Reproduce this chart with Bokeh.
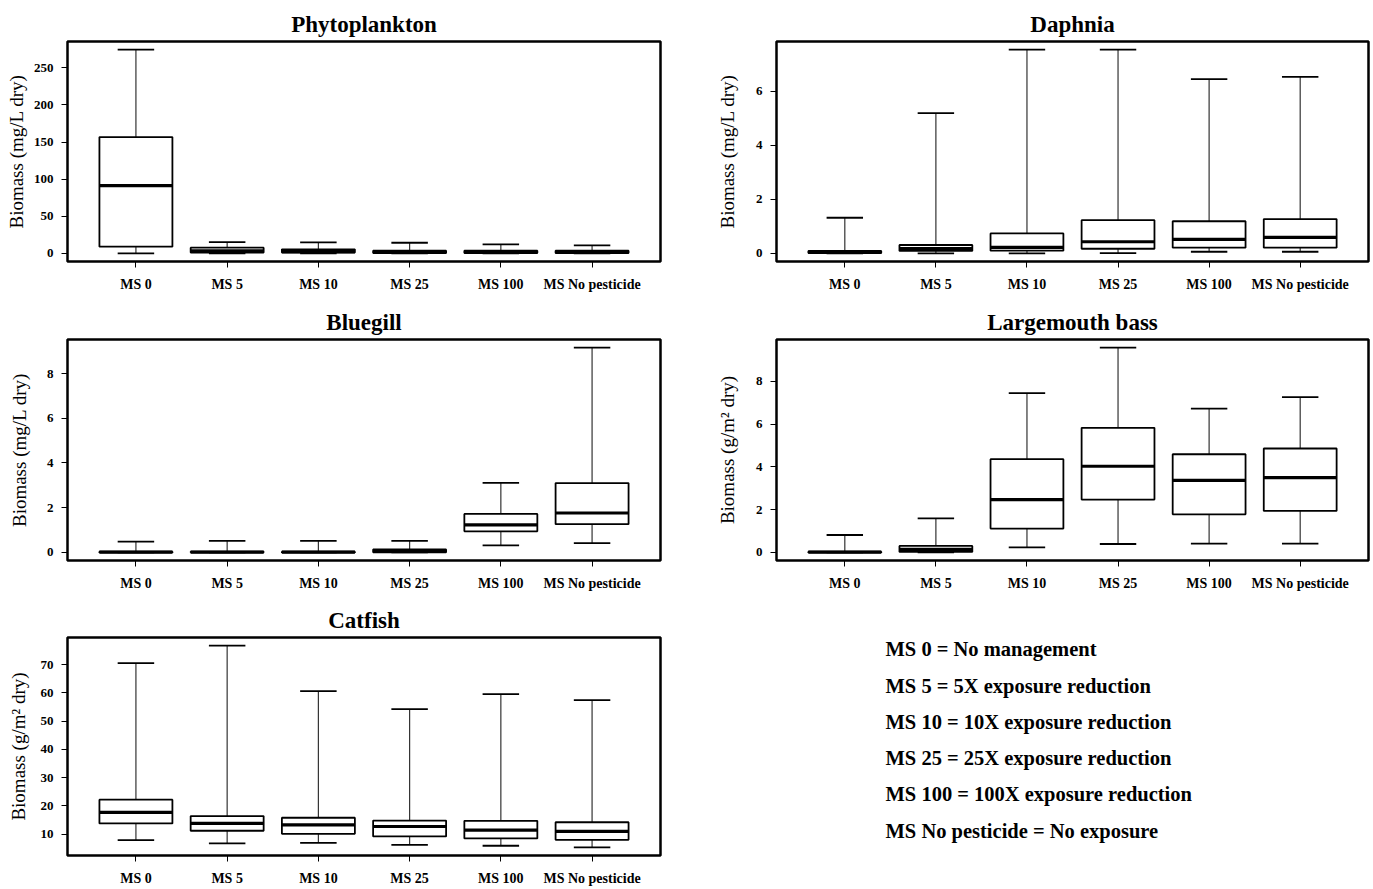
from bokeh.plotting import figure
from bokeh.layouts import column, row
from bokeh.models import Range1d, FixedTicker
from bokeh.embed import file_html
from bokeh.resources import INLINE
from bokeh.core.properties import value

categories = ["MS 0", "MS 5", "MS 10", "MS 25", "MS 100", "MS No pesticide"]

# five-number summaries per category: lower whisker, Q1, median, Q3, upper whisker
phyto_low = [0.0, 0.0, 0.0, 0.0, 0.0, 0.0]
phyto_q1 = [9.0, 1.0, 1.0, 0.5, 0.5, 0.5]
phyto_med = [91.4, 3.5, 2.2, 1.8, 1.8, 1.8]
phyto_q3 = [156.8, 7.6, 5.4, 3.6, 3.6, 3.6]
phyto_high = [274.6, 15.2, 14.8, 14.3, 12.1, 10.8]
phyto_ticks = [0, 50, 100, 150, 200, 250]

daph_low = [0.0, 0.0, 0.0, 0.01, 0.06, 0.06]
daph_q1 = [0.01, 0.09, 0.10, 0.17, 0.21, 0.21]
daph_med = [0.04, 0.18, 0.22, 0.43, 0.52, 0.59]
daph_q3 = [0.09, 0.31, 0.74, 1.23, 1.19, 1.27]
daph_high = [1.32, 5.20, 7.55, 7.55, 6.46, 6.54]
daph_ticks = [0, 2, 4, 6]

blue_low = [0.0, 0.0, 0.0, 0.0, 0.31, 0.41]
blue_q1 = [0.0, 0.0, 0.0, 0.0, 0.94, 1.26]
blue_med = [0.01, 0.01, 0.01, 0.04, 1.23, 1.76]
blue_q3 = [0.03, 0.03, 0.03, 0.13, 1.72, 3.10]
blue_high = [0.48, 0.51, 0.51, 0.51, 3.11, 9.16]
blue_ticks = [0, 2, 4, 6, 8]

lmb_low = [0.0, 0.0, 0.23, 0.39, 0.41, 0.41]
lmb_q1 = [0.0, 0.02, 1.11, 2.47, 1.78, 1.94]
lmb_med = [0.01, 0.14, 2.47, 4.03, 3.37, 3.50]
lmb_q3 = [0.03, 0.30, 4.36, 5.83, 4.59, 4.86]
lmb_high = [0.81, 1.59, 7.45, 9.58, 6.73, 7.27]
lmb_ticks = [0, 2, 4, 6, 8]

cat_low = [7.9, 6.7, 6.9, 6.2, 5.9, 5.3]
cat_q1 = [13.8, 11.2, 10.1, 9.2, 8.5, 8.0]
cat_med = [17.7, 13.8, 13.3, 12.7, 11.4, 11.0]
cat_q3 = [22.2, 16.4, 15.8, 14.8, 14.7, 14.2]
cat_high = [70.5, 76.7, 60.6, 54.2, 59.5, 57.4]
cat_ticks = [10, 20, 30, 40, 50, 60, 70]

legend_lines = [
    "MS 0 = No management",
    "MS 5 = 5X exposure reduction",
    "MS 10 = 10X exposure reduction",
    "MS 25 = 25X exposure reduction",
    "MS 100 = 100X exposure reduction",
    "MS No pesticide = No exposure",
]

FONT = "Liberation Serif"


def make_panel(title, ylabel, low, q1, med, q3, high, yticks,
               width, height, bl, br, bt, bb, ylab_standoff):
    span = max(high) - min(low)
    ylo = min(low) - 0.04 * span
    yhi = max(high) + 0.04 * span
    p = figure(width=width, height=height, x_range=Range1d(0.25, 6.75),
               y_range=Range1d(ylo, yhi), output_backend="svg",
               toolbar_location=None, min_border_left=bl, min_border_right=br,
               min_border_top=bt, min_border_bottom=bb)
    p.title.text = title
    p.title.align = "center"
    p.title.text_font = FONT
    p.title.text_font_size = "23px"
    p.title.text_font_style = "bold"
    p.title.text_color = "black"
    p.title.standoff = 10
    p.grid.visible = False
    p.outline_line_color = "black"
    p.outline_line_width = 2.5
    p.background_fill_color = "white"
    p.border_fill_color = "white"

    xs = list(range(1, len(categories) + 1))
    left = [x - 0.4 for x in xs]
    right = [x + 0.4 for x in xs]
    cl = [x - 0.2 for x in xs]
    cr = [x + 0.2 for x in xs]

    p.segment(xs, q3, xs, high, line_color="#333333", line_width=1.2)
    p.segment(xs, low, xs, q1, line_color="#333333", line_width=1.2)
    p.segment(cl, high, cr, high, line_color="black", line_width=1.8)
    p.segment(cl, low, cr, low, line_color="black", line_width=1.8)
    p.quad(left=left, right=right, bottom=q1, top=q3, fill_color="white",
           line_color="black", line_width=1.8)
    p.segment(left, med, right, med, line_color="black", line_width=3.2)

    p.xaxis.ticker = FixedTicker(ticks=xs)
    p.xaxis.major_label_overrides = {x: c for x, c in zip(xs, categories)}
    p.yaxis.ticker = FixedTicker(ticks=yticks)
    for ax in (p.xaxis, p.yaxis):
        ax.axis_line_color = None
        ax.major_tick_in = 0
        ax.major_tick_out = 6
        ax.minor_tick_in = 0
        ax.minor_tick_out = 0
        ax.major_tick_line_color = "black"
        ax.major_tick_line_width = 1
        ax.major_label_text_font = FONT
        ax.major_label_text_font_style = "bold"
        ax.major_label_text_color = "black"
    p.xaxis.major_label_text_font_size = "14px"
    p.xaxis.major_label_standoff = 9
    p.yaxis.major_label_text_font_size = "13px"
    p.yaxis.major_label_standoff = 8
    p.yaxis.axis_label = ylabel
    p.yaxis.axis_label_text_font = FONT
    p.yaxis.axis_label_text_font_style = "normal"
    p.yaxis.axis_label_text_font_size = "19px"
    p.yaxis.axis_label_text_color = "black"
    p.yaxis.axis_label_standoff = ylab_standoff
    return p


p1 = make_panel("Phytoplankton", "Biomass (mg/L dry)", phyto_low, phyto_q1, phyto_med,
                phyto_q3, phyto_high, phyto_ticks, 690, 300, 67, 30, 41, 39, 4)
p2 = make_panel("Daphnia", "Biomass (mg/L dry)", daph_low, daph_q1, daph_med,
                daph_q3, daph_high, daph_ticks, 683, 300, 86, 5, 41, 39, 15)
p3 = make_panel("Bluegill", "Biomass (mg/L dry)", blue_low, blue_q1, blue_med,
                blue_q3, blue_high, blue_ticks, 690, 298, 67, 30, 39, 38, 14)
p4 = make_panel("Largemouth bass", "Biomass (g/m\u00b2 dry)", lmb_low, lmb_q1, lmb_med,
                lmb_q3, lmb_high, lmb_ticks, 683, 298, 86, 5, 39, 38, 15)
p5 = make_panel("Catfish", "Biomass (g/m\u00b2 dry)", cat_low, cat_q1, cat_med,
                cat_q3, cat_high, cat_ticks, 690, 291, 67, 30, 39, 34, 9)

# legend panel: its frame is aligned with the Catfish frame (220 px tall)
leg = figure(width=683, height=291, x_range=Range1d(0, 683),
             y_range=Range1d(220, 0), output_backend="svg", toolbar_location=None,
             x_axis_location=None, y_axis_location=None,
             min_border_left=0, min_border_right=0, min_border_top=39,
             min_border_bottom=34)
leg.grid.visible = False
leg.outline_line_color = None
leg.border_fill_color = "white"
n = len(legend_lines)
leg.text(x=[195] * n, y=[12 + 36.6 * i for i in range(n)], text=legend_lines,
         text_font=value(FONT), text_font_style="bold", text_font_size="20.5px",
         text_align="left", text_baseline="middle", text_color="black")

layout = column(row(p1, p2), row(p3, p4), row(p5, leg))
open("out.html", "w").write(file_html(layout, INLINE))
